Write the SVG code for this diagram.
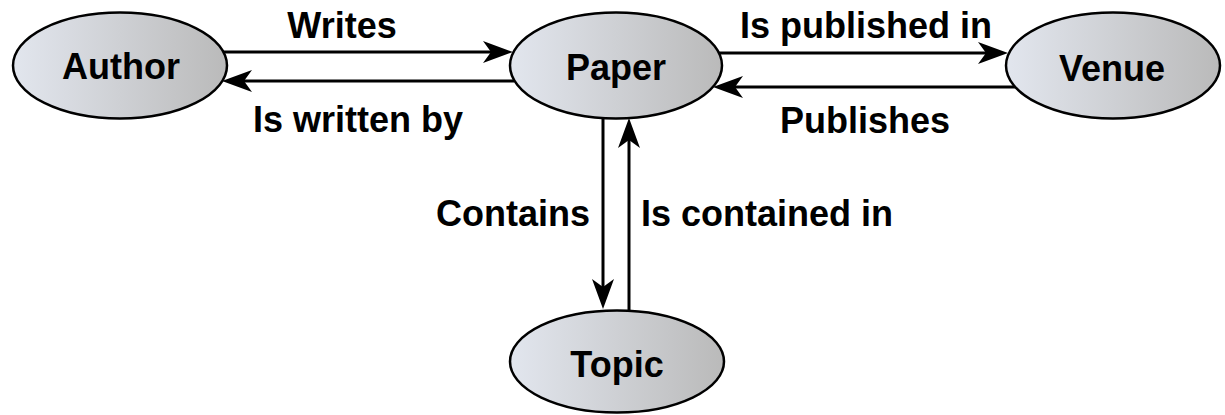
<svg xmlns="http://www.w3.org/2000/svg" width="1225" height="415" viewBox="0 0 1225 415">
<style>
.node{stroke:#000;stroke-width:2.5;fill:url(#g)}
.nl{font-family:"Liberation Sans",Arial,sans-serif;font-weight:bold;font-size:36px;text-anchor:middle;fill:#000}
.el{font-family:"Liberation Sans",Arial,sans-serif;font-weight:bold;font-size:36px;fill:#000}
.edge{stroke:#000;stroke-width:3;fill:none;marker-end:url(#ah)}
</style>
<defs>
<linearGradient id="g" x1="0" y1="0" x2="1" y2="0">
<stop offset="0" stop-color="#e2e6ee"/>
<stop offset="1" stop-color="#bababa"/>
</linearGradient>
<marker id="ah" viewBox="0 0 30 24" refX="15" refY="12" markerWidth="30" markerHeight="24" markerUnits="userSpaceOnUse" orient="auto">
<path d="M30,12 L0,1 L8,12 L0,23 Z" fill="#000"/>
</marker>
</defs>
<rect width="1225" height="415" fill="#fff"/>
<g id="connectors">
<line class="edge" x1="223" y1="52" x2="498" y2="52"/>
<text class="el" x="342" y="38" text-anchor="middle">Writes</text>
<line class="edge" x1="514" y1="81" x2="237" y2="81"/>
<text class="el" x="358" y="132" text-anchor="middle">Is written by</text>
<line class="edge" x1="719" y1="53" x2="993" y2="53"/>
<text class="el" x="866" y="38" text-anchor="middle">Is published in</text>
<line class="edge" x1="1015" y1="87" x2="728" y2="87"/>
<text class="el" x="865" y="133" text-anchor="middle">Publishes</text>
<line class="edge" x1="603" y1="118" x2="603" y2="294"/>
<text class="el" x="590" y="226" text-anchor="end">Contains</text>
<line class="edge" x1="629" y1="311" x2="629" y2="133"/>
<text class="el" x="641" y="226">Is contained in</text>
</g>
<g id="author"><ellipse class="node" cx="120" cy="65.5" rx="107" ry="53"/><text class="nl" x="121" y="79">Author</text></g>
<g id="paper"><ellipse class="node" cx="616" cy="65.5" rx="106" ry="53"/><text class="nl" x="616" y="80">Paper</text></g>
<g id="venue"><ellipse class="node" cx="1113" cy="65.5" rx="107" ry="53"/><text class="nl" x="1112" y="81">Venue</text></g>
<g id="topic"><ellipse class="node" cx="617" cy="361.5" rx="107" ry="51"/><text class="nl" x="617" y="377">Topic</text></g>
</svg>
